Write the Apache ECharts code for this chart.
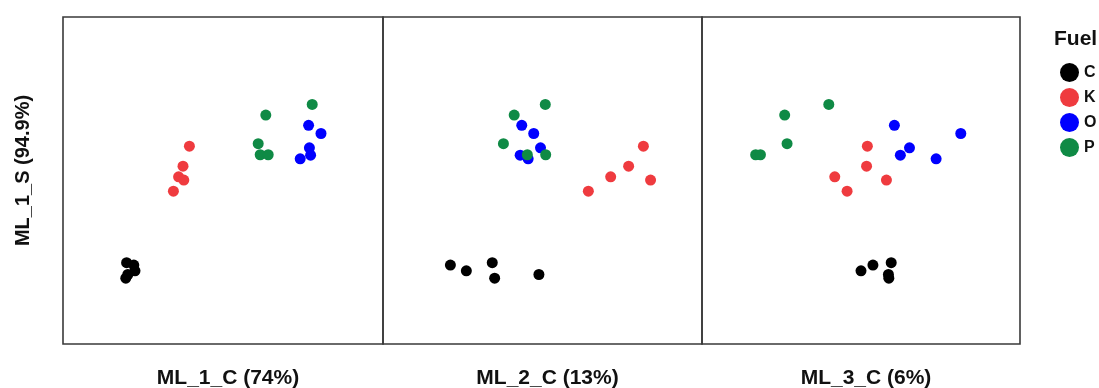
<!DOCTYPE html>
<html>
<head>
<meta charset="utf-8">
<script src="https://cdn.jsdelivr.net/npm/echarts@6/dist/echarts.min.js"></script>
<style>html,body{margin:0;padding:0;background:#fff}#c{width:1099px;height:388px}</style>
</head>
<body>
<div id="c"></div>
<script>
// Fuel groups
const fuels = ['C', 'K', 'O', 'P'];
const fuelColors = ['#000000', '#ef3b3f', '#0000ff', '#0f8a45'];
// Panel (x axis) titles and y axis title
const xTitles = ['ML_1_C (74%)', 'ML_2_C (13%)', 'ML_3_C (6%)'];
const yTitle = 'ML_1_S (94.9%)';

// ML_1_S scores (shared vertical axis), one list per fuel (C, K, O, P)
const ML_1_S = [
  [-2.01, -2.07, -2.21, -2.30, -2.39],
  [0.84, 0.35, 0.09, 0.01, -0.26],
  [1.35, 1.15, 0.80, 0.62, 0.53],
  [1.86, 1.60, 0.90, 0.63, 0.63]
];
// ML_1_C scores
const ML_1_C = [
  [-2.41, -2.23, -2.20, -2.38, -2.43],
  [-0.84, -1.00, -1.11, -0.98, -1.24],
  [2.14, 2.45, 2.16, 2.19, 1.93],
  [2.23, 1.07, 0.88, 0.93, 1.13]
];
// ML_2_C scores
const ML_2_C = [
  [-1.26, -2.31, -1.91, -0.09, -1.20],
  [2.53, 2.16, 1.71, 2.71, 1.15],
  [-0.52, -0.22, -0.05, -0.56, -0.36],
  [0.07, -0.71, -0.98, -0.38, 0.08]
];
// ML_3_C scores
const ML_3_C = [
  [0.76, 0.30, 0.00, 0.69, 0.70],
  [0.16, 0.14, -0.66, 0.64, -0.35],
  [0.84, 2.51, 1.22, 0.99, 1.89],
  [-0.81, -1.92, -1.86, -2.65, -2.53]
];

const panelX = [ML_1_C, ML_2_C, ML_3_C];
const gridLefts = [63, 383, 702];
const gridWidths = [320, 319, 318];

const grids = [], xAxes = [], yAxes = [], series = [];
for (let p = 0; p < 3; p++) {
  grids.push({
    left: gridLefts[p], top: 17, width: gridWidths[p], height: 327,
    outerBoundsMode: 'none', containLabel: false,
    show: true, borderColor: '#3a3a3a', borderWidth: 1.6, backgroundColor: 'transparent'
  });
  xAxes.push({
    gridIndex: p, type: 'value', min: -4, max: 4,
    axisLine: { show: false }, axisTick: { show: false }, axisLabel: { show: false },
    splitLine: { show: false },
    name: xTitles[p], nameLocation: 'middle', nameGap: 24,
    nameTextStyle: { fontFamily: 'Liberation Sans', fontWeight: 'bold', fontSize: 21, color: '#111', padding: [0, 0, 0, 10] }
  });
  yAxes.push({
    gridIndex: p, type: 'value', min: -4, max: 4,
    axisLine: { show: false }, axisTick: { show: false }, axisLabel: { show: false },
    splitLine: { show: false },
    name: p === 0 ? yTitle : '', nameLocation: 'middle', nameRotate: 90, nameGap: 30,
    nameTextStyle: { fontFamily: 'Liberation Sans', fontWeight: 'bold', fontSize: 20, color: '#111', padding: [0, 0, 0, 20] }
  });
  for (let f = 0; f < fuels.length; f++) {
    series.push({
      name: fuels[f], type: 'scatter', xAxisIndex: p, yAxisIndex: p,
      symbol: 'circle', symbolSize: 11,
      itemStyle: { color: fuelColors[f], opacity: 1 },
      data: panelX[p][f].map((x, i) => [x, ML_1_S[f][i]])
    });
  }
}

const chart = echarts.init(document.getElementById('c'), null, { renderer: 'canvas' });
chart.setOption({
  animation: false,
  color: fuelColors,
  title: {
    text: 'Fuel', left: 1049, top: 24,
    textStyle: { fontFamily: 'Liberation Sans', fontWeight: 'bold', fontSize: 21, color: '#111' }
  },
  legend: {
    data: fuels, orient: 'vertical', left: 1055, top: 58,
    icon: 'circle', itemWidth: 19, itemHeight: 19, itemGap: 6, itemTextGap: 5,
    textStyle: { fontFamily: 'Liberation Sans', fontWeight: 'bold', fontSize: 16, color: '#111' }
  },
  grid: grids, xAxis: xAxes, yAxis: yAxes, series: series
});
</script>
</body>
</html>
